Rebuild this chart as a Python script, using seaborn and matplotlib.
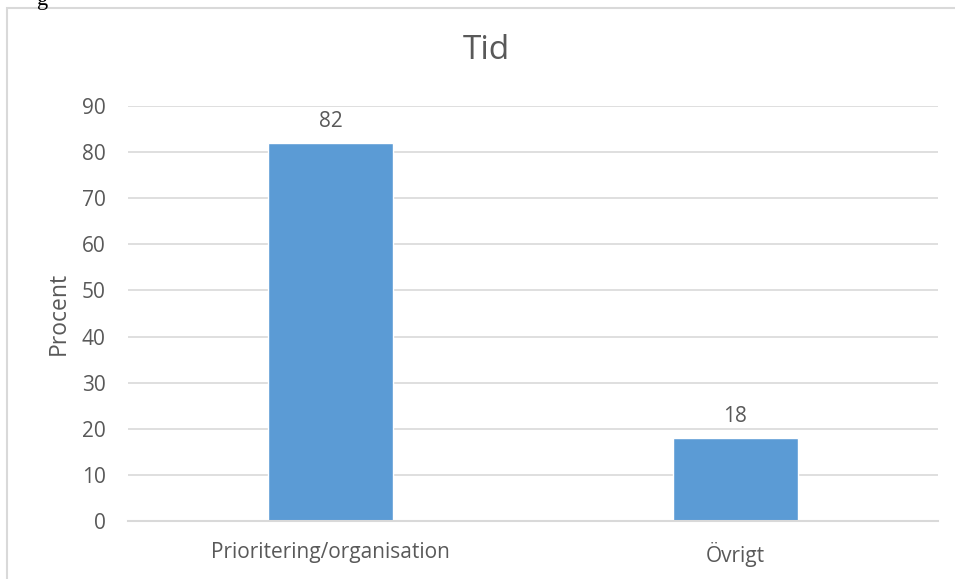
import matplotlib
matplotlib.use("Agg")
import matplotlib.pyplot as plt
import seaborn as sns
import pandas as pd
from matplotlib.patches import Rectangle

# data
categories = ["Prioritering/organisation", "Övrigt"]
values = [82, 18]
yticks = [0, 10, 20, 30, 40, 50, 60, 70, 80, 90]

sns.set_theme(style="white")
plt.rcParams["font.family"] = ["Open Sans", "DejaVu Sans"]

text_col = "#595959"
grid_col = "#D9D9D9"
bar_col = "#5B9BD5"

df = pd.DataFrame({"Kategori": categories, "Procent": values})

fig = plt.figure(figsize=(9.55, 5.79), dpi=100)
ax = fig.add_axes([0.134, 0.100, 0.848, 0.717])

sns.barplot(data=df, x="Kategori", y="Procent", color=bar_col, width=0.31,
            saturation=1, ax=ax)

ax.set_ylim(0, 90)
ax.set_yticks(yticks)
ax.set_xlim(-0.5, 1.5)
ax.yaxis.grid(True, color=grid_col, linewidth=1.2)
ax.set_axisbelow(True)
for s in ["top", "right", "left"]:
    ax.spines[s].set_visible(False)
ax.spines["bottom"].set_color(grid_col)
ax.spines["bottom"].set_linewidth(1.5)
ax.tick_params(axis="y", length=0, pad=16, labelsize=15, labelcolor=text_col)
ax.tick_params(axis="x", length=0, pad=15, labelsize=15, labelcolor=text_col)

ax.set_xlabel("")
ax.set_ylabel("Procent", fontsize=16.5, color=text_col, labelpad=8)

for c in ax.containers:
    ax.bar_label(c, labels=[str(v) for v in values], padding=8,
                 fontsize=15, color=text_col)

fig.text(0.509, 0.912, "Tid", ha="center", va="center", fontsize=24, color=text_col)

# chart frame (cropped at right/bottom) and text fragment above
fig.patches.append(Rectangle((7 / 955, -0.05), 1.0, 1 - 8 / 579 + 0.05,
                             transform=fig.transFigure, fill=False,
                             edgecolor=grid_col, linewidth=1.5))
fig.text(0.045, 1.0, "g", ha="center", va="center", fontsize=16,
         family="Liberation Serif", color="black")

fig.savefig("out.png", dpi=100)
